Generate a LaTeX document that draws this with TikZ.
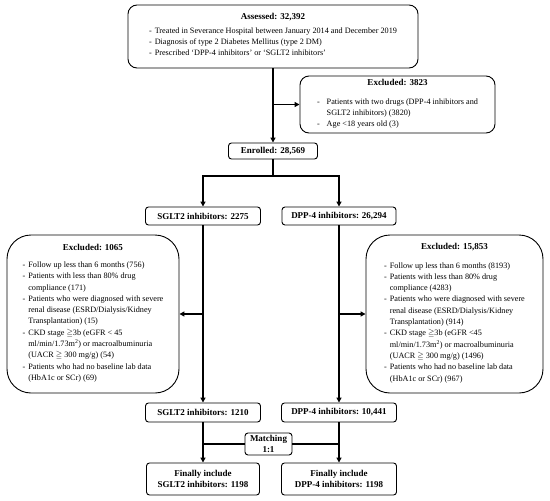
\documentclass[tikz,border=0pt]{standalone}
\usepackage{amsmath, amssymb}
\usepackage{fontspec}
\setmainfont{Liberation Serif}
\usetikzlibrary{arrows.meta}

\newcommand{\bodysize}{\fontsize{8.2}{11.3}\selectfont}
\newcommand{\headsize}{\fontsize{9}{10.6}\selectfont\bfseries}

\begin{document}
\begin{tikzpicture}[x=1pt, y=-1pt,
                >={Triangle[length=5pt,width=5pt]},
                smallnode/.style={rectangle, rounded corners=3pt, draw, line width=0.9pt, font=\headsize, inner sep=1pt, align=center},
                bignode/.style={rectangle, rounded corners=9pt, draw, line width=0.9pt, inner sep=2pt, align=center},
                roundnode/.style={bignode, rounded corners=24pt},
                link/.style={line width=1.6pt},
                ]
                \useasboundingbox (0,0) rectangle (550,501);

                \node[bignode, minimum width=290pt, minimum height=63pt] (assessed) at (273,36.5) {{\headsize Assessed: 32,392}\\[3pt]
                    {\bodysize\begin{tabular}{@{}l@{\hspace{3pt}}l@{}}
                    - & Treated in Severance Hospital between January 2014 and December 2019\\
                    - & Diagnosis of type 2 Diabetes Mellitus (type 2 DM)\\
                    - & Prescribed ‘DPP-4 inhibitors’ or ‘SGLT2 inhibitors’
                    \end{tabular}}};

                \node[bignode, minimum width=195pt, minimum height=57pt] (excla) at (397.5,104.5) {{\headsize Excluded: 3823}\\[10pt]
                    {\bodysize\begin{tabular}{@{}l@{\hspace{7pt}}l@{}}
                    - & Patients with two drugs (DPP-4 inhibitors and\\
                      & SGLT2 inhibitors) (3820)\\
                    - & Age <18 years old (3)
                    \end{tabular}}};

                \node[smallnode, minimum width=89pt, minimum height=16pt] (enrolled) at (273,151) {Enrolled: 28,569};

                \node[smallnode, minimum width=115pt, minimum height=18pt] (sglt) at (203,216) {SGLT2 inhibitors: 2275};
                \node[smallnode, minimum width=114pt, minimum height=18pt] (dpp) at (339,216) {DPP-4 inhibitors: 26,294};

                \node[roundnode, minimum width=172pt, minimum height=158pt] (exclb) at (93,314) {{\headsize Excluded: 1065}\\[8pt]
                    {\bodysize\begin{tabular}{@{}l@{\hspace{3pt}}l@{}}
                    - & Follow up less than 6 months (756)\\
                    - & Patients with less than 80\% drug\\
                      & compliance (171)\\
                    - & Patients who were diagnosed with severe\\
                      & renal disease (ESRD/Dialysis/Kidney\\
                      & Transplantation) (15)\\
                    - & CKD stage $\geqq$3b (eGFR < 45\\
                      & ml/min/1.73m\textsuperscript{2}) or macroalbuminuria\\
                      & (UACR $\geqq$ 300 mg/g) (54)\\
                    - & Patients who had no baseline lab data\\
                      & (HbA1c or SCr) (69)
                    \end{tabular}}};

                \node[roundnode, minimum width=177pt, minimum height=158pt] (exclc) at (454.5,314) {{\headsize Excluded: 15,853}\\[8pt]
                    {\bodysize\begin{tabular}{@{}l@{\hspace{3pt}}l@{}}
                    - & Follow up less than 6 months (8193)\\
                    - & Patients with less than 80\% drug\\
                      & compliance (4283)\\
                    - & Patients who were diagnosed with severe\\
                      & renal disease (ESRD/Dialysis/Kidney\\
                      & Transplantation) (914)\\
                    - & CKD stage $\geqq$3b (eGFR <45\\
                      & ml/min/1.73m\textsuperscript{2}) or macroalbuminuria\\
                      & (UACR $\geqq$ 300 mg/g) (1496)\\
                    - & Patients who had no baseline lab data\\
                      & (HbA1c or SCr) (967)
                    \end{tabular}}};

                \node[smallnode, minimum width=115pt, minimum height=19pt] (sgltb) at (203,412.5) {SGLT2 inhibitors: 1210};
                \node[smallnode, minimum width=115pt, minimum height=19pt] (dppb) at (339,412.5) {DPP-4 inhibitors: 10,441};

                \node[smallnode, minimum width=47pt, minimum height=22pt] (match) at (268.5,444) {Matching\\1:1};

                \node[smallnode, minimum width=113pt, minimum height=32pt] (fina) at (203,479) {Finally include\\SGLT2 inhibitors: 1198};
                \node[smallnode, minimum width=115pt, minimum height=32pt] (finb) at (339,479) {Finally include\\DPP-4 inhibitors: 1198};

                \coordinate (split) at (273,176);

                \draw[->, link] (assessed.south) -- (enrolled.north);
                \draw[->, link] (assessed.south |- excla.west) -- (excla.west);

                \draw[link] (enrolled.south) -- (split);
                \draw[->, link] (split) -| (sglt.north);
                \draw[->, link] (split) -| (dpp.north);

                \draw[->, link] (sglt.south) -- (sgltb.north);
                \draw[->, link] (sglt.south |- exclb.east) -- (exclb.east);
                \draw[->, link] (dpp.south) -- (dppb.north);
                \draw[->, link] (dpp.south |- exclc.west) -- (exclc.west);

                \draw[->, link] (sgltb.south) -- (fina.north);
                \draw[->, link] (dppb.south) -- (finb.north);
                \draw[link] (sgltb.south |- match.west) -- (match.west);
                \draw[link] (match.east) -- (dppb.south |- match.east);
\end{tikzpicture}
\end{document}
